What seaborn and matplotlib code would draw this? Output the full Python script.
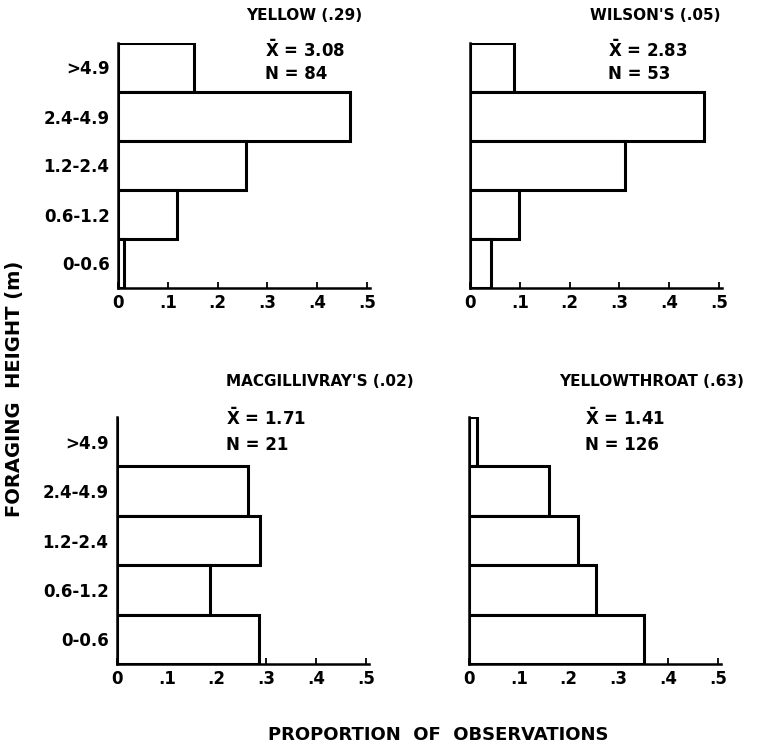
import pandas as pd
import seaborn as sns
import matplotlib.pyplot as plt

heights = ['>4.9', '2.4-4.9', '1.2-2.4', '0.6-1.2', '0-0.6']
yellow = [0.152, 0.465, 0.257, 0.119, 0.012]
wilsons = [0.088, 0.470, 0.311, 0.098, 0.042]
macgillivrays = [0.0, 0.264, 0.287, 0.186, 0.286]
yellowthroat = [0.016, 0.161, 0.219, 0.256, 0.351]

titles = ['YELLOW (.29)', "WILSON'S (.05)", "MACGILLIVRAY'S (.02)", 'YELLOWTHROAT (.63)']
means = ['3.08', '2.83', '1.71', '1.41']
counts = ['84', '53', '21', '126']
xticks = [0, 0.1, 0.2, 0.3, 0.4, 0.5]
xticklabels = ['0', '.1', '.2', '.3', '.4', '.5']

sns.set_style('ticks')
plt.rcParams['font.family'] = ['DejaVu Sans']
plt.rcParams['font.weight'] = 'bold'
plt.rcParams['mathtext.fontset'] = 'dejavusans'
for k in ['text.color', 'axes.labelcolor', 'xtick.color', 'ytick.color', 'axes.edgecolor']:
    plt.rcParams[k] = 'black'

fig = plt.figure(figsize=(7.75, 7.46), dpi=100)

# axes boxes in figure fraction: left, bottom, width, height
boxes = [
    [118 / 775, 1 - 288 / 746, 251.5 / 775, 245 / 746],
    [470 / 775, 1 - 288 / 746, 251.5 / 775, 245 / 746],
    [117 / 775, 1 - 664 / 746, 251.5 / 775, 247 / 746],
    [469 / 775, 1 - 664 / 746, 251.5 / 775, 247 / 746],
]
series = [yellow, wilsons, macgillivrays, yellowthroat]
title_x = [0.373, 0.371, 0.408, 0.367]
title_y = [1.114, 1.114, 1.142, 1.142]
stat_x = [0.295, 0.277, 0.219, 0.233]
stat_y = [(0.971, 0.873), (0.971, 0.873), (0.996, 0.887), (0.996, 0.887)]

for i, vals in enumerate(series):
    ax = fig.add_axes(boxes[i])
    df = pd.DataFrame({'height': heights, 'prop': vals})
    sns.barplot(data=df, x='prop', y='height', order=heights, orient='h',
                color='white', edgecolor='black', linewidth=2.2, width=1.0,
                saturation=1, ax=ax)
    ax.set_xlim(0, 0.505)
    ax.set_ylim(4.5, -0.5)
    sns.despine(ax=ax)
    for s in ['left', 'bottom']:
        ax.spines[s].set_linewidth(1.8)
    ax.set_xticks(xticks)
    ax.set_xticklabels(xticklabels, fontsize=12, fontweight='bold')
    ax.tick_params(axis='x', direction='in', length=4, width=1.3, pad=4)
    ax.tick_params(axis='y', length=0, pad=6)
    if i % 2 == 0:
        ax.set_yticks(range(len(heights)))
        ax.set_yticklabels(heights, fontsize=12, fontweight='bold')
    else:
        ax.set_yticks([])
    ax.set_xlabel('')
    ax.set_ylabel('')
    tr = ax.get_xaxis_transform()
    ax.text(title_x[i], title_y[i], titles[i], transform=tr, clip_on=False,
            ha='center', va='center', fontsize=11, fontweight='bold')
    ax.text(stat_x[i], stat_y[i][0], r'$\mathbf{\bar{X}}$ = ' + means[i], transform=tr,
            clip_on=False, ha='left', va='center', fontsize=12, fontweight='bold')
    ax.text(stat_x[i], stat_y[i][1], 'N = ' + counts[i], transform=tr, clip_on=False,
            ha='left', va='center', fontsize=12, fontweight='bold')

fig.text(15 / 775, 1 - 389 / 746, 'FORAGING  HEIGHT (m)', rotation=90,
         ha='center', va='center', fontsize=14, fontweight='bold')
fig.text(438 / 775, 1 - 735 / 746, 'PROPORTION  OF  OBSERVATIONS',
         ha='center', va='center', fontsize=13, fontweight='bold')

plt.savefig('out.png', dpi=100)
